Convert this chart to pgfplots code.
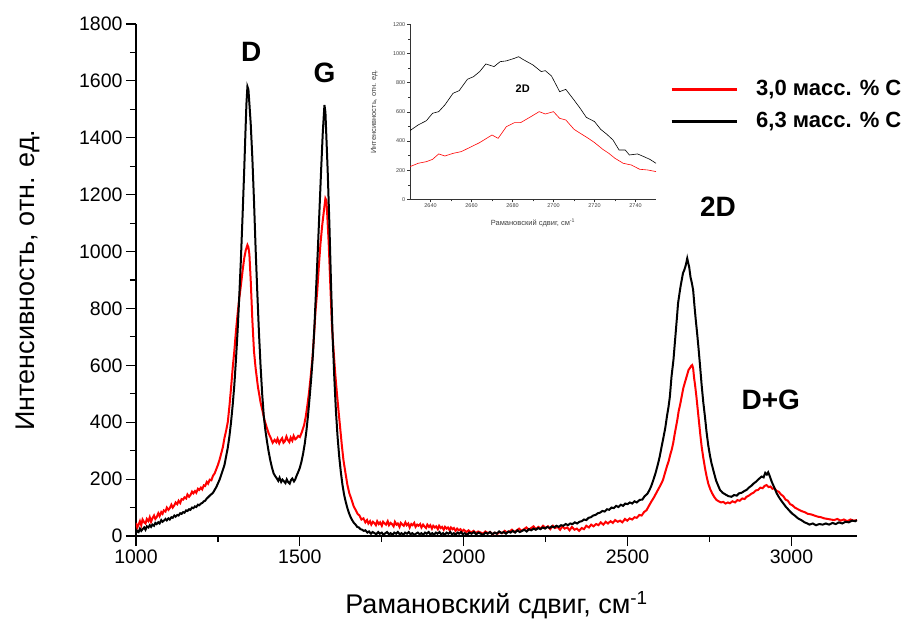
\documentclass[border=0pt]{standalone}
\usepackage{fontspec}
\setmainfont{Liberation Sans}
\usepackage{pgfplots}
\pgfplotsset{compat=1.18}
\begin{document}
\begin{tikzpicture}
\path (-136bp,-83bp) rectangle (783bp,536bp);
\begin{axis}[at={(0bp,0bp)}, anchor=south west, scale only axis,
  width=721bp, height=512bp,
  xmin=1000, xmax=3200, ymin=0, ymax=1800,
  axis lines=left, axis line style={-, line width=1.2bp},
  xtick={1000,1500,...,3000}, ytick={0,200,...,1800},
  minor x tick num=1, minor y tick num=1,
  xtick align=outside, ytick align=outside,
  major tick length=10bp, minor tick length=6bp,
  tick style={line width=1.2bp, black},
  /pgf/number format/assume math mode=true,
  /pgf/number format/set thousands separator={},
  ticklabel style={font=\fontsize{19.5bp}{20bp}\selectfont},
  xlabel={Рамановский сдвиг, см\textsuperscript{-1}},
  ylabel={Интенсивность, отн. ед.},
  label style={font=\fontsize{27bp}{28bp}\selectfont},
  xlabel style={at={(axis description cs:0.5,-0.135)}, anchor=center},
  ylabel style={at={(axis description cs:-0.15,0.5)}, anchor=center, rotate=0},
  legend style={at={(0.7406,0.898)}, anchor=north west, draw=none, fill=none,
    inner sep=0pt, font=\bfseries\fontsize{22bp}{24bp}\selectfont, row sep=6bp,
    nodes={inner sep=3bp, text height=16bp, text depth=4bp},
    /tikz/every odd column/.append style={column sep=15bp}},
  legend cell align=left,
  legend image code/.code={\draw[#1, line width=3bp] (0bp,0bp) -- (65bp,0bp);},
]
\addplot[red, line width=2bp] coordinates {
(1000,46)(1004,30)(1008,40)(1012,52)(1016,38)(1020,58)(1025,48)(1029,44)(1033,60)(1038,52)(1042,66)(1046,50)(1050,62)(1055,72)(1059,60)(1063,66)(1068,80)(1072,70)(1077,84)(1081,78)(1085,90)(1090,86)(1094,100)(1099,92)(1103,98)(1108,110)(1112,100)(1117,108)(1121,118)(1126,112)(1130,124)(1135,116)(1139,130)(1144,128)(1148,136)(1153,132)(1157,146)(1162,138)(1166,144)(1171,156)(1175,150)(1180,158)(1184,152)(1189,166)(1193,162)(1198,170)(1202,164)(1207,178)(1211,176)(1216,190)(1220,184)(1225,198)(1230,196)(1235,212)(1240,220)(1245,235)(1250,250)(1255,268)(1260,290)(1265,312)(1270,345)(1275,370)(1280,400)(1285,455)(1290,520)(1295,590)(1300,650)(1305,720)(1310,780)(1315,835)(1320,880)(1325,930)(1330,975)(1335,1005)(1340,1023)(1343,1015)(1346,990)(1350,900)(1355,760)(1360,650)(1365,590)(1372,525)(1380,470)(1386,440)(1392,408)(1398,385)(1405,360)(1411,345)(1417,328)(1423,338)(1428,330)(1432,342)(1437,326)(1441,336)(1446,344)(1450,328)(1454,333)(1459,350)(1463,338)(1468,330)(1472,346)(1477,335)(1481,352)(1486,340)(1490,344)(1495,352)(1500,348)(1506,365)(1513,390)(1518,420)(1523,460)(1528,505)(1533,560)(1538,620)(1543,700)(1548,795)(1553,860)(1558,950)(1563,1029)(1568,1090)(1573,1140)(1578,1187)(1581,1180)(1584,1120)(1588,1029)(1593,880)(1598,736)(1603,650)(1608,570)(1613,502)(1618,440)(1623,380)(1628,320)(1633,267)(1638,230)(1645,180)(1651,150)(1658,127)(1664,105)(1670,92)(1676,78)(1682,72)(1688,58)(1694,62)(1700,48)(1705,56)(1709,44)(1714,52)(1718,40)(1723,50)(1727,46)(1732,38)(1736,52)(1741,42)(1745,48)(1750,36)(1754,50)(1759,44)(1763,40)(1768,52)(1772,38)(1777,46)(1781,42)(1786,34)(1790,50)(1795,40)(1799,44)(1804,32)(1808,46)(1813,40)(1817,36)(1822,48)(1826,38)(1831,44)(1835,30)(1840,42)(1844,38)(1849,46)(1853,32)(1858,40)(1862,36)(1867,42)(1871,30)(1876,40)(1880,34)(1885,28)(1889,40)(1894,32)(1898,38)(1903,26)(1907,36)(1912,30)(1916,34)(1921,24)(1925,36)(1930,28)(1934,32)(1939,22)(1943,32)(1948,26)(1952,30)(1957,20)(1961,30)(1966,24)(1970,28)(1975,18)(1980,26)(1985,20)(1990,24)(1995,16)(2000,22)(2008,14)(2015,20)(2022,12)(2030,18)(2037,10)(2044,16)(2052,12)(2059,8)(2066,16)(2074,10)(2081,14)(2088,6)(2096,12)(2103,8)(2110,14)(2118,10)(2125,18)(2132,12)(2140,16)(2147,22)(2154,14)(2162,20)(2169,26)(2176,18)(2184,24)(2191,30)(2198,22)(2206,28)(2213,34)(2220,24)(2228,32)(2235,26)(2242,36)(2250,28)(2257,34)(2264,24)(2272,36)(2279,28)(2286,32)(2294,22)(2301,34)(2308,26)(2316,30)(2323,20)(2330,32)(2338,22)(2345,26)(2352,18)(2360,28)(2367,24)(2374,36)(2382,30)(2389,40)(2396,34)(2404,42)(2411,38)(2418,48)(2426,40)(2433,50)(2440,44)(2448,52)(2455,46)(2462,56)(2470,50)(2477,54)(2484,48)(2492,60)(2499,54)(2506,62)(2514,58)(2521,66)(2528,64)(2536,74)(2543,72)(2550,84)(2558,91)(2566,108)(2573,122)(2580,135)(2587,150)(2594,165)(2601,180)(2608,197)(2615,225)(2620,245)(2625,262)(2630,285)(2635,305)(2639,326)(2644,360)(2648,385)(2652,410)(2656,440)(2660,460)(2665,490)(2670,520)(2675,540)(2680,560)(2686,584)(2690,590)(2694,598)(2697,601)(2700,590)(2703,555)(2706,530)(2710,490)(2714,445)(2718,400)(2722,355)(2726,314)(2731,275)(2736,240)(2741,210)(2746,185)(2752,165)(2758,150)(2764,138)(2771,127)(2778,122)(2785,118)(2792,120)(2799,114)(2806,118)(2812,115)(2820,122)(2828,118)(2835,126)(2842,124)(2850,132)(2857,130)(2863,138)(2870,142)(2877,148)(2884,152)(2891,160)(2898,162)(2905,170)(2912,168)(2918,176)(2924,179)(2930,172)(2936,174)(2942,166)(2948,168)(2955,158)(2961,156)(2968,146)(2975,140)(2982,128)(2989,124)(2996,112)(3003,108)(3010,100)(3020,94)(3030,88)(3040,84)(3050,78)(3060,76)(3070,72)(3080,68)(3090,66)(3100,62)(3110,60)(3120,58)(3130,56)(3140,60)(3150,54)(3160,58)(3170,52)(3180,58)(3190,54)(3200,56)
};
\addlegendentry{3,0 масс. \% С}
\addplot[black, line width=2bp] coordinates {
(1000,10)(1004,18)(1008,14)(1012,26)(1016,18)(1020,24)(1025,30)(1029,22)(1033,34)(1038,30)(1042,38)(1046,32)(1050,40)(1055,36)(1059,46)(1063,42)(1068,48)(1072,44)(1077,56)(1081,50)(1085,54)(1090,60)(1094,55)(1099,62)(1103,58)(1108,66)(1112,64)(1117,72)(1121,68)(1126,74)(1130,72)(1135,80)(1139,78)(1144,84)(1148,82)(1153,90)(1157,88)(1162,94)(1166,92)(1171,100)(1175,98)(1180,104)(1184,102)(1189,110)(1193,108)(1198,114)(1202,116)(1207,122)(1211,124)(1216,132)(1220,136)(1225,142)(1230,147)(1235,152)(1240,162)(1245,172)(1250,185)(1255,198)(1260,215)(1265,232)(1270,250)(1275,280)(1280,310)(1285,350)(1290,400)(1295,460)(1300,530)(1305,620)(1310,720)(1315,840)(1320,970)(1325,1120)(1330,1280)(1334,1420)(1337,1520)(1340,1580)(1343,1570)(1346,1520)(1350,1450)(1355,1330)(1360,1180)(1365,1010)(1370,860)(1375,720)(1380,600)(1385,500)(1390,420)(1395,370)(1400,330)(1405,295)(1410,265)(1415,240)(1420,220)(1425,210)(1430,202)(1434,194)(1438,205)(1443,190)(1447,198)(1451,193)(1456,186)(1460,199)(1464,190)(1469,184)(1473,197)(1477,202)(1482,192)(1486,199)(1490,212)(1495,225)(1500,240)(1505,262)(1510,290)(1515,325)(1520,370)(1525,425)(1530,490)(1535,560)(1540,640)(1545,750)(1550,880)(1555,1010)(1560,1150)(1565,1290)(1570,1420)(1575,1515)(1578,1490)(1581,1400)(1585,1280)(1590,1100)(1595,890)(1600,700)(1605,560)(1610,440)(1615,350)(1620,280)(1625,225)(1630,180)(1635,145)(1640,120)(1645,98)(1650,80)(1655,66)(1660,55)(1665,46)(1670,40)(1675,32)(1680,30)(1685,24)(1690,22)(1695,18)(1700,20)(1706,12)(1711,16)(1717,8)(1722,14)(1728,10)(1733,6)(1739,14)(1744,8)(1750,12)(1755,4)(1761,10)(1766,14)(1772,6)(1777,10)(1783,4)(1788,12)(1794,8)(1799,14)(1805,6)(1810,10)(1816,4)(1821,12)(1827,8)(1832,14)(1838,6)(1843,10)(1849,4)(1854,8)(1860,12)(1865,6)(1871,10)(1876,4)(1882,12)(1887,8)(1893,14)(1898,6)(1904,10)(1909,4)(1915,12)(1920,8)(1926,14)(1931,6)(1937,10)(1942,4)(1948,12)(1953,8)(1959,14)(1964,6)(1970,10)(1975,4)(1981,12)(1986,8)(1992,14)(1997,6)(2003,10)(2010,4)(2017,12)(2024,8)(2031,14)(2038,6)(2045,12)(2052,8)(2059,4)(2066,12)(2073,8)(2080,14)(2087,6)(2094,12)(2101,8)(2108,16)(2115,10)(2122,14)(2129,8)(2136,16)(2143,12)(2150,18)(2157,12)(2164,20)(2171,14)(2178,18)(2185,22)(2192,16)(2199,24)(2206,20)(2213,26)(2220,22)(2227,28)(2234,24)(2241,30)(2248,26)(2255,32)(2262,28)(2269,34)(2276,30)(2283,36)(2290,32)(2297,38)(2304,36)(2311,42)(2318,38)(2325,44)(2332,42)(2339,48)(2346,44)(2353,50)(2360,52)(2367,58)(2374,56)(2381,64)(2388,66)(2395,72)(2402,74)(2409,80)(2416,82)(2423,88)(2430,86)(2437,94)(2444,92)(2451,100)(2458,98)(2465,106)(2472,102)(2479,110)(2486,106)(2493,114)(2500,112)(2507,118)(2514,114)(2521,122)(2528,118)(2537,127)(2545,128)(2552,140)(2560,148)(2566,160)(2572,175)(2578,195)(2585,220)(2592,250)(2598,279)(2604,315)(2610,350)(2615,380)(2620,420)(2625,455)(2629,490)(2634,560)(2640,620)(2645,690)(2650,760)(2654,818)(2658,850)(2662,880)(2666,905)(2669,924)(2673,935)(2677,950)(2680,965)(2682,976)(2685,960)(2688,945)(2692,910)(2696,890)(2700,865)(2704,810)(2708,760)(2712,715)(2716,666)(2721,600)(2726,530)(2731,470)(2736,420)(2741,365)(2746,320)(2751,285)(2756,256)(2763,225)(2770,195)(2776,178)(2782,162)(2790,152)(2800,145)(2808,140)(2817,138)(2825,144)(2833,142)(2840,150)(2848,152)(2856,158)(2863,162)(2870,170)(2877,176)(2885,185)(2893,192)(2900,200)(2909,209)(2915,206)(2920,222)(2925,216)(2929,224)(2934,210)(2940,190)(2947,172)(2955,150)(2962,136)(2969,124)(2975,115)(2982,104)(2989,95)(2996,86)(3003,78)(3010,72)(3020,62)(3030,56)(3040,48)(3047,45)(3055,40)(3065,44)(3075,38)(3085,42)(3095,40)(3105,44)(3115,40)(3125,46)(3135,42)(3145,48)(3155,44)(3165,50)(3175,48)(3185,54)(3195,52)(3200,56)
};
\addlegendentry{6,3 масс. \% С}
\node[font=\bfseries\fontsize{28bp}{28bp}\selectfont] at (axis cs:1352,1702) {D};
\node[font=\bfseries\fontsize{28bp}{28bp}\selectfont] at (axis cs:1575,1628) {G};
\node[font=\bfseries\fontsize{28bp}{28bp}\selectfont] at (axis cs:2776,1157) {2D};
\node[font=\bfseries\fontsize{28bp}{28bp}\selectfont] at (axis cs:2937,478) {D+G};
\end{axis}
\begin{axis}[at={(274bp,336.7bp)}, anchor=south west, scale only axis,
  width=246bp, height=175bp,
  xmin=2630, xmax=2750, ymin=0, ymax=1200,
  axis lines=left, axis line style={-, line width=0.5bp, black!80},
  xtick={2640,2660,...,2740}, ytick={0,200,...,1200},
  minor x tick num=1, minor y tick num=1,
  xtick align=outside, ytick align=outside,
  major tick length=3bp, minor tick length=2bp,
  tick style={line width=0.4bp, black!80},
  /pgf/number format/assume math mode=true,
  /pgf/number format/set thousands separator={},
  ticklabel style={font=\fontsize{5.5bp}{6bp}\selectfont, text=black!75, inner sep=1.5bp},
  xlabel={Рамановский сдвиг, см\textsuperscript{-1}},
  ylabel={Интенсивность, отн. ед.},
  label style={font=\fontsize{7.5bp}{8bp}\selectfont, text=black!75},
  xlabel style={at={(axis description cs:0.5,-0.137)}, anchor=center},
  ylabel style={at={(axis description cs:-0.145,0.5)}, anchor=center, rotate=0},
]
\addplot[black, line width=0.6bp] coordinates {
(2630,471)(2634,510)(2638,539)(2641,590)(2644,601)(2647,647)(2651,727)(2654,745)(2658,823)(2661,841)(2664,876)(2667,928)(2671,910)(2674,944)(2677,949)(2681,967)(2683,978)(2685,960)(2690,921)(2694,876)(2696,882)(2699,846)(2703,738)(2706,754)(2710,681)(2713,624)(2716,562)(2720,533)(2723,480)(2726,446)(2729,407)(2732,338)(2735,338)(2737,304)(2741,311)(2744,293)(2747,274)(2750,247)
};
\addplot[red, line width=0.6bp] coordinates {
(2630,224)(2634,247)(2638,258)(2641,274)(2644,311)(2647,297)(2651,315)(2655,327)(2660,361)(2664,389)(2670,441)(2673,418)(2677,498)(2681,526)(2684,526)(2689,567)(2693,601)(2696,585)(2700,601)(2703,555)(2706,544)(2710,480)(2713,453)(2717,418)(2720,389)(2724,343)(2727,315)(2730,281)(2734,247)(2738,235)(2742,206)(2746,201)(2750,190)
};
\node[font=\bfseries\fontsize{11bp}{11bp}\selectfont] at (axis cs:2685,761) {2D};
\end{axis}
\end{tikzpicture}
\end{document}
